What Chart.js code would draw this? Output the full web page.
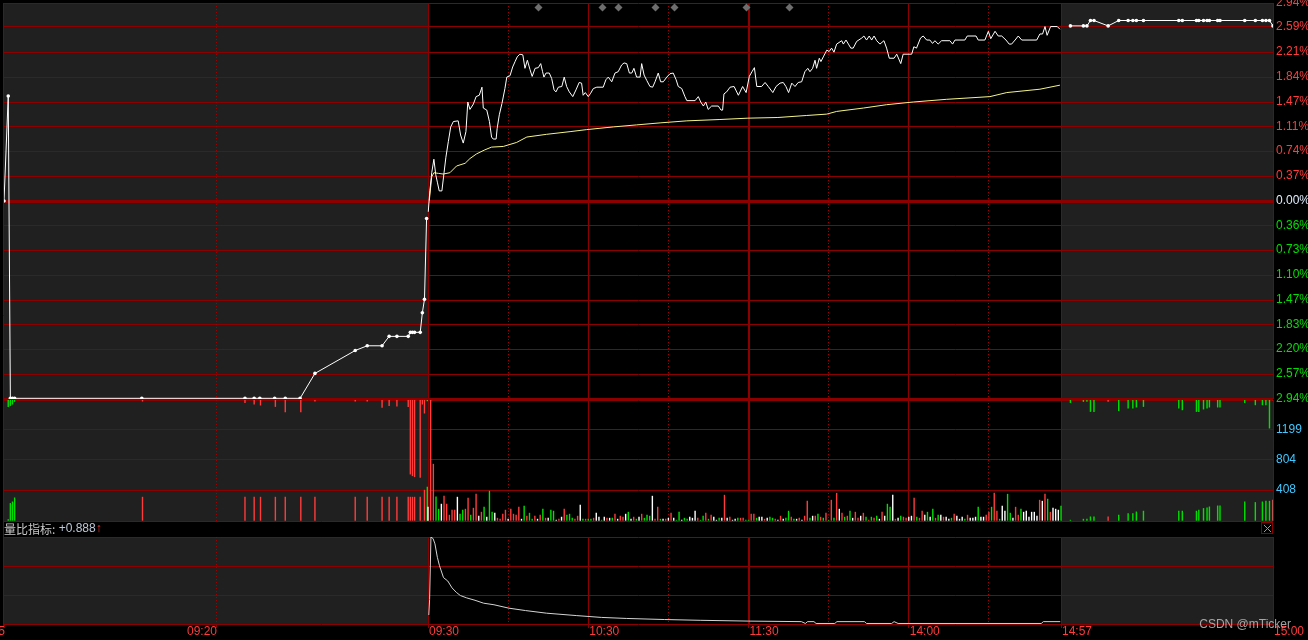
<!DOCTYPE html>
<html lang="zh-CN">
<head>
<meta charset="utf-8">
<title>分时走势</title>
<script src="https://cdn.jsdelivr.net/npm/chart.js@4.4.1/dist/chart.umd.min.js"></script>
<style>
  html, body { margin: 0; padding: 0; background: #000; }
  #board { position: relative; width: 1308px; height: 640px; overflow: hidden; background: #000; }
  #board canvas { position: absolute; left: 0; top: 0; }
</style>
</head>
<body>
<div id="board">
  <canvas id="ratio-chart" width="1308" height="640"></canvas>
  <canvas id="volume-chart" width="1308" height="640"></canvas>
  <canvas id="price-chart" width="1308" height="640"></canvas>
</div>
<script>
"use strict";

// ============================================================
// Data
// ============================================================

// call auction 09:15 - 09:25
const prePriceTimes = ["09:15:00", "09:15:06", "09:15:09", "09:15:12", "09:15:15", "09:18:15", "09:20:41", "09:20:54",
    "09:21:02", "09:21:23", "09:21:38", "09:21:59", "09:22:20", "09:23:17", "09:23:34", "09:23:55", "09:24:05",
    "09:24:16", "09:24:32", "09:24:35", "09:24:38", "09:24:41", "09:24:49", "09:24:52", "09:24:55", "09:24:58"];
const prePricePct = [0.00, 1.56, -2.93, -2.93, -2.93, -2.93, -2.93, -2.93, -2.93, -2.93, -2.93, -2.93, -2.56, -2.22,
    -2.15, -2.15, -2.01, -2.01, -2.01, -1.95, -1.95, -1.95, -1.95, -1.66, -1.46, -0.26];

const preVolTimes = ["09:15:06", "09:15:09", "09:15:12", "09:15:15", "09:18:16", "09:20:41", "09:20:54", "09:21:03",
    "09:21:24", "09:21:38", "09:22:00", "09:22:20", "09:23:17", "09:23:34", "09:23:55", "09:24:05", "09:24:16",
    "09:24:32", "09:24:35", "09:24:38", "09:24:41", "09:24:49", "09:24:52", "09:24:55", "09:24:59"];
const preVolMatched = [22, 233, 254, 307, 316, 316, 316, 316, 316, 316, 316, 316, 316, 316, 316, 316, 316, 316, 316,
    316, 316, 316, 0, 408, 447];
const preVolUnmatched = [88, 75, 57, 22, 17, 36, 57, 70, 88, 158, 158, 17, 17, 17, 101, 75, 83, 88, 978, 1000, 1013,
    1023, 57, 175, 13];
const preVolDir = "ggggrrrrrrrrrrrrrrrrrrrrg".split("");

// continuous session, x = minutes since 09:30 (lunch folded away)
const mainMin = [0.1, 0.7, 1.4, 2.2, 2.9, 3.5, 4.2, 5.2, 6.0, 6.7, 7.6, 8.5, 9.5, 11.3, 12.2, 13.2, 14.2, 14.9, 15.7,
    17.0, 18.0, 19.2, 20.2, 20.7, 22.0, 23.0, 23.8, 24.4, 25.5, 25.9, 26.7, 27.7, 28.8, 29.5, 30.7, 31.7, 32.6, 33.4,
    34.4, 35.5, 36.3, 37.2, 38.2, 39.0, 40.1, 41.3, 42.2, 42.9, 43.4, 44.2, 45.4, 46.3, 47.2, 47.9, 48.8, 50.1, 51.0,
    51.9, 52.9, 54.2, 55.4, 56.6, 57.5, 58.1, 58.9, 60.0, 60.9, 61.9, 63.2, 65.6, 66.6, 67.5, 68.8, 70.0, 71.2, 72.5,
    73.4, 74.4, 75.4, 76.3, 77.1, 78.1, 79.4, 80.0, 80.9, 81.9, 83.1, 84.1, 85.0, 86.2, 87.1, 88.1, 89.4, 90.6, 91.8,
    92.9, 93.7, 95.0, 96.2, 96.9, 100.0, 101.2, 102.1, 103.1, 104.0, 104.9, 106.2, 108.7, 109.7, 110.3, 110.8, 111.8,
    113.1, 114.6, 116.2, 117.8, 119.1, 120.3, 121.3, 122.2, 123.1, 124.9, 126.2, 127.4, 129.1, 130.3, 131.8, 133.0,
    134.0, 135.0, 136.2, 137.4, 138.6, 139.9, 141.1, 142.2, 143.0, 144.0, 144.9, 145.5, 146.5, 147.1, 148.0, 149.3,
    150.2, 151.1, 152.0, 153.0, 154.9, 155.5, 156.5, 157.4, 158.3, 159.2, 160.5, 162.4, 163.2, 164.2, 165.2, 166.1,
    167.0, 168.0, 169.2, 170.7, 171.7, 172.7, 174.5, 175.5, 177.0, 177.9, 181.1, 181.9, 182.9, 184.4, 185.4, 186.7,
    187.9, 188.9, 189.8, 191.0, 192.3, 195.4, 196.4, 197.3, 201.0, 201.9, 205.2, 206.0, 208.5, 209.8, 210.7, 212.3,
    213.5, 214.8, 216.4, 217.6, 218.5, 219.8, 221.0, 222.3, 227.9, 229.1, 230.1, 231.0, 231.8, 233.1, 235.6, 236.6];
const mainPct = [-0.16, 0.16, 0.42, 0.62, 0.39, 0.28, 0.15, 0.15, 0.42, 0.65, 0.88, 1.10, 1.18, 1.19, 0.98, 0.86, 1.03,
    1.47, 1.36, 1.44, 1.55, 1.57, 1.69, 1.38, 1.35, 1.18, 0.95, 0.92, 0.92, 1.08, 1.28, 1.45, 1.67, 1.84, 1.86, 1.99,
    2.07, 2.14, 2.18, 2.17, 1.97, 2.09, 1.95, 1.85, 1.97, 1.98, 2.04, 1.92, 1.84, 1.90, 1.90, 1.82, 1.65, 1.62, 1.69,
    1.70, 1.84, 1.70, 1.62, 1.55, 1.65, 1.76, 1.75, 1.57, 1.61, 1.55, 1.60, 1.67, 1.69, 1.69, 1.80, 1.84, 1.77, 1.90,
    1.92, 2.02, 2.05, 2.04, 1.90, 1.90, 1.97, 1.84, 1.84, 2.04, 1.87, 1.79, 1.70, 1.69, 1.77, 1.90, 1.77, 1.77, 1.84,
    1.89, 1.90, 1.80, 1.70, 1.67, 1.55, 1.49, 1.49, 1.55, 1.47, 1.41, 1.47, 1.36, 1.41, 1.41, 1.35, 1.35, 1.59, 1.62,
    1.69, 1.70, 1.57, 1.70, 1.61, 1.85, 1.92, 1.98, 1.70, 1.70, 1.76, 1.70, 1.61, 1.70, 1.75, 1.76, 1.70, 1.61, 1.75,
    1.70, 1.76, 1.77, 1.92, 1.97, 1.92, 1.97, 2.09, 1.97, 2.12, 2.07, 2.14, 2.24, 2.22, 2.27, 2.21, 2.33, 2.38, 2.33,
    2.39, 2.33, 2.27, 2.27, 2.37, 2.42, 2.45, 2.39, 2.45, 2.39, 2.45, 2.38, 2.33, 2.38, 2.27, 2.12, 2.12, 2.18, 2.04,
    2.18, 2.18, 2.29, 2.27, 2.42, 2.45, 2.39, 2.39, 2.34, 2.38, 2.33, 2.38, 2.38, 2.33, 2.39, 2.39, 2.45, 2.45, 2.39,
    2.39, 2.52, 2.41, 2.52, 2.45, 2.45, 2.39, 2.33, 2.33, 2.39, 2.45, 2.39, 2.39, 2.48, 2.48, 2.59, 2.46, 2.59, 2.59,
    2.55];

const avgMin = [0.5, 1.4, 2.2, 3.9, 5.7, 8.2, 10.7, 13.9, 15.7, 18.2, 21.3, 23.8, 28.2, 33.2, 37.0, 44.4, 53.2, 59.4,
    69.4, 78.1, 86.9, 96.9, 109.3, 119.8, 131.0, 141.8, 149.3, 153.0, 163.0, 171.7, 181.7, 194.2, 210.4, 216.7, 229.1,
    236.6];
const avgPct = [0.01, 0.36, 0.42, 0.41, 0.40, 0.42, 0.52, 0.56, 0.63, 0.70, 0.76, 0.80, 0.81, 0.87, 0.95, 0.99, 1.03,
    1.06, 1.10, 1.13, 1.16, 1.19, 1.21, 1.23, 1.24, 1.27, 1.29, 1.33, 1.38, 1.43, 1.47, 1.51, 1.55, 1.61, 1.66, 1.72];

// one bar per minute, index = minutes since 09:30
const volume = [184, 1900, 750, 320, 158, 224, 329, 224, 79, 145, 145, 316, 92, 145, 158, 303, 79, 171, 355, 66,
    118, 184, 53, 395, 118, 105, 39, 26, 92, 145, 26, 158, 92, 79, 184, 26, 197, 66, 105, 26,
    66, 26, 79, 158, 39, 39, 145, 132, 13, 26, 53, 158, 79, 92, 39, 26, 66, 211, 26, 26,
    26, 26, 39, 105, 53, 13, 53, 39, 39, 39, 92, 26, 66, 53, 92, 118, 26, 53, 26, 53,
    92, 39, 79, 66, 329, 26, 184, 26, 26, 26, 39, 105, 39, 13, 118, 13, 39, 26, 53, 39,
    132, 39, 13, 66, 105, 26, 79, 53, 13, 39, 39, 342, 39, 53, 13, 26, 39, 39, 39, 13,
    13, 92, 92, 39, 53, 53, 26, 39, 53, 39, 26, 13, 66, 26, 39, 132, 53, 26, 26, 39,
    13, 66, 263, 39, 66, 66, 92, 53, 39, 105, 13, 276, 39, 368, 158, 105, 53, 66, 132, 39,
    118, 39, 66, 105, 53, 13, 53, 39, 66, 26, 118, 66, 224, 184, 342, 26, 39, 66, 53, 39,
    53, 66, 303, 53, 39, 132, 79, 118, 53, 158, 39, 79, 79, 53, 53, 26, 39, 92, 66, 26,
    53, 26, 79, 39, 39, 53, 184, 53, 53, 79, 118, 184, 368, 132, 26, 197, 132, 355, 105, 39,
    184, 79, 158, 118, 132, 53, 118, 118, 66, 276, 263, 355, 290, 118, 171, 158, 145, 197];
const volumeDir = ("wrrggwrrrr" + "rwggrrgrrw" + "rgwggwrrrr" + "wrrrrwgrgg" + "rwrgrwggwr" + "wrgggrrwgr" +
    "ggrwwgwrwg" + "rwrrwgwrgw" + "rgggwrrgwr" + "wrwggwggww" + "wrggrgrwwg" + "wrwrwwgrrg" +
    "grrgwwrwgg" + "rwrwggrgwr" + "wrrgwrgrgr" + "grgrwrgrgw" + "rrwrgrgrgw" + "rwggwrwgrr" +
    "wwrgrrwgwg" + "rgwrwwgrww" + "wgrwwwgwwr" + "rgrrgwwggw" + "rrgwwwwwwr" + "wrgrwwwg").split("");

// 量比 (volume ratio)
const ratioMin = [0.3, 0.6, 1.1, 1.9, 2.6, 3.5, 4.3, 5.8, 7.4, 9.0, 10.6, 12.1, 14.5, 17.6, 20.8, 24.7, 30.3, 36.5,
    44.4, 55.5, 64.9, 74.4, 88.5, 101.9, 120.1, 139.8, 141.3, 142.1, 144.5, 145.3, 152.3, 153.1, 163.4, 164.2, 173.6,
    174.5, 176.0, 229.6, 230.4, 236.7];
const ratioVal = [1.14, 1.72, 4.10, 4.04, 3.84, 3.33, 3.01, 2.56, 2.43, 2.17, 2.00, 1.88, 1.79, 1.70, 1.59, 1.53,
    1.40, 1.31, 1.21, 1.12, 1.05, 1.01, 0.97, 0.94, 0.91, 0.89, 0.82, 0.89, 0.89, 0.82, 0.82, 0.89, 0.89, 0.82, 0.82,
    0.89, 0.82, 0.82, 0.89, 0.89];
const ratioNow = "+0.888";

// closing call auction 14:57 - 15:00
const postTimes = ["14:57:08", "14:57:19", "14:57:22", "14:57:25", "14:57:28", "14:57:40", "14:57:49", "14:57:57",
    "14:58:01", "14:58:04", "14:58:10", "14:58:40", "14:58:43", "14:58:55", "14:58:57", "14:59:01", "14:59:04",
    "14:59:06", "14:59:13", "14:59:15", "14:59:36", "14:59:45", "14:59:51", "14:59:54", "14:59:57", "15:00:00"];
const postPct = [2.60, 2.60, 2.60, 2.68, 2.68, 2.60, 2.68, 2.68, 2.68, 2.68, 2.68, 2.68, 2.68, 2.68, 2.68, 2.68, 2.68,
    2.68, 2.68, 2.68, 2.68, 2.68, 2.68, 2.68, 2.68, 2.60];
const postVolMatched = [13, 26, 26, 57, 57, 57, 79, 101, 101, 122, 132, 132, 132, 132, 145, 167, 175, 188, 201, 201,
    254, 246, 254, 263, 263, 276];
const postVolUnmatched = [36, 22, 22, 154, 154, 22, 141, 109, 109, 96, 88, 109, 132, 154, 154, 122, 109, 96, 96, 96,
    36, 66, 66, 66, 372, 0];
const postVolDir = "gggggrgggggggggggggggggggr".split("");

// event markers along the top edge
const markerTimes = ["10:11", "10:35", "10:41", "10:55", "11:02", "11:29", "13:15"];

// axes
const pctTicks = [2.94, 2.59, 2.21, 1.84, 1.47, 1.11, 0.74, 0.37, 0, -0.36, -0.73, -1.10, -1.47, -1.83, -2.20, -2.57, -2.94];
const volTicks = [0, 408, 804, 1199, 1594];
const ratioTicks = [0.8, 1.9, 3.0, 4.1];
const timeLabels = ["09:15", "09:20", "09:30", "10:30", "11:30", "14:00", "14:57", "15:00"];
const solidLines = ["09:30", "10:30", "11:30", "14:00", "14:57", "15:00"];
const dottedLines = ["09:20", "10:00", "11:00", "13:30", "14:30"];

// ============================================================
// Styling / time axis
// ============================================================

const GRID = "#8c0000";
const DOT = "#a00000";
const SHADE = "#202020";
const RED = "#ff3c3c";
const GREEN = "#00e000";
const WHITE = "#ffffff";
const AVG = "#f4f48a";
const DIR_COLOR = { r: RED, g: GREEN, w: WHITE };

// x unit = one minute of the continuous session; auction strips are stretched
const X_MIN = -158.75;   // 09:15
const X_MAX = 316.37;    // 15:00

function secs(t) {
    const p = t.split(":").map(Number);
    return p[0] * 3600 + p[1] * 60 + (p[2] || 0);
}

function timeToX(t) {
    const s = secs(t);
    if (s <= secs("09:25")) return X_MIN + (s - secs("09:15")) * (-X_MIN / 600);
    if (s <= secs("11:30")) return (s - secs("09:30")) / 60;
    if (s < secs("14:57")) return 120 + (s - secs("13:00")) / 60;
    return 237 + (s - secs("14:57")) * ((X_MAX - 237) / 180);
}

const pts = (xs, ys) => xs.map((x, i) => ({ x, y: ys[i] }));
const atTimes = (ts, ys) => ts.map((t, i) => ({ x: timeToX(t), y: ys[i] }));
const crisp = (px, w) => (w % 2 ? Math.round(px - 0.5) + 0.5 : Math.round(px));

Chart.defaults.font.family = '"Liberation Sans", Arial, sans-serif';
Chart.defaults.font.size = 12;

function timeAxis() {
    return { type: "linear", min: X_MIN, max: X_MAX, offset: false, grid: { offset: false }, display: false };
}

function fitRight(scale) {
    scale.width = 35;
    scale.paddingTop = 0;
    scale.paddingBottom = 0;
}

function baseOptions(top, bottom) {
    return {
        responsive: false,
        animation: false,
        events: [],
        layout: { autoPadding: false, padding: { left: 4, right: 0, top: top, bottom: 640 - bottom } },
        plugins: { legend: { display: false }, tooltip: { enabled: false } }
    };
}

// ============================================================
// Plugins
// ============================================================

const sessionShade = {
    id: "sessionShade",
    beforeDraw(chart) {
        const { ctx, chartArea: a, scales: { x } } = chart;
        const open = x.getPixelForValue(timeToX("09:30"));
        const close = x.getPixelForValue(timeToX("14:57"));
        ctx.save();
        ctx.fillStyle = SHADE;
        ctx.fillRect(a.left, a.top, open - a.left, a.bottom - a.top);
        ctx.fillRect(close, a.top, a.right - close, a.bottom - a.top);
        ctx.restore();
    }
};

const sessionLines = {
    id: "sessionLines",
    beforeDatasetsDraw(chart) {
        const { ctx, chartArea: a, scales: { x } } = chart;
        ctx.save();
        ctx.strokeStyle = GRID;
        solidLines.forEach(t => {
            const w = t === "11:30" ? 2 : 1;
            const px = crisp(x.getPixelForValue(timeToX(t)), w);
            ctx.lineWidth = w;
            ctx.beginPath();
            ctx.moveTo(px, a.top);
            ctx.lineTo(px, a.bottom);
            ctx.stroke();
        });
        ctx.strokeStyle = DOT;
        ctx.lineWidth = 1;
        ctx.setLineDash([1, 2]);
        dottedLines.forEach(t => {
            const px = crisp(x.getPixelForValue(timeToX(t)), 1);
            ctx.beginPath();
            ctx.moveTo(px, a.top);
            ctx.lineTo(px, a.bottom);
            ctx.stroke();
        });
        ctx.restore();
    }
};

const eventMarks = {
    id: "eventMarks",
    afterDatasetsDraw(chart) {
        const { ctx, chartArea: a, scales: { x } } = chart;
        ctx.save();
        ctx.fillStyle = "#6e6e6e";
        markerTimes.forEach(t => {
            const cx = Math.round(x.getPixelForValue(timeToX(t))) + 0.5;
            const cy = a.top + 4.5;
            ctx.beginPath();
            ctx.moveTo(cx, cy - 4);
            ctx.lineTo(cx + 4, cy);
            ctx.lineTo(cx, cy + 4);
            ctx.lineTo(cx - 4, cy);
            ctx.closePath();
            ctx.fill();
        });
        ctx.restore();
    }
};

const ratioOverlay = {
    id: "ratioOverlay",
    afterDraw(chart) {
        const { ctx, chartArea: a, scales: { x } } = chart;
        ctx.save();

        // left frame through all panes
        ctx.strokeStyle = GRID;
        ctx.lineWidth = 1;
        ctx.beginPath();
        ctx.moveTo(3.5, 3);
        ctx.lineTo(3.5, a.bottom + 4);
        ctx.stroke();

        // indicator title row
        const ty = a.top - 8;
        let tx = 4;
        ctx.textBaseline = "middle";
        ctx.textAlign = "left";
        ctx.font = '12px "Noto Sans CJK SC", sans-serif';
        ctx.fillStyle = "#c8c8c8";
        ctx.fillText("量比指标:", tx, ty);
        tx += ctx.measureText("量比指标:").width;
        ctx.font = '12px "Liberation Sans", Arial, sans-serif';
        ctx.fillStyle = "#bcc8d8";
        ctx.fillText(" " + ratioNow, tx, ty);
        tx += ctx.measureText(" " + ratioNow).width;
        ctx.fillStyle = RED;
        ctx.fillText("↑", tx, ty);

        // close box
        ctx.strokeStyle = GRID;
        ctx.strokeRect(a.right - 11.5, a.top - 14.5, 11, 11);
        ctx.strokeStyle = "#9a9a9a";
        ctx.beginPath();
        ctx.moveTo(a.right - 9, a.top - 12);
        ctx.lineTo(a.right - 2, a.top - 5);
        ctx.moveTo(a.right - 2, a.top - 12);
        ctx.lineTo(a.right - 9, a.top - 5);
        ctx.stroke();

        // time axis
        ctx.font = '12px "Liberation Sans", Arial, sans-serif';
        timeLabels.forEach(t => {
            const xv = timeToX(t);
            const px = x.getPixelForValue(xv);
            ctx.strokeStyle = GRID;
            ctx.beginPath();
            ctx.moveTo(crisp(px, 1), a.bottom);
            ctx.lineTo(crisp(px, 1), a.bottom + 4);
            ctx.stroke();
            ctx.fillStyle = RED;
            ctx.textAlign = xv < 0 ? "right" : "left";
            ctx.fillText(t, px + 1, a.bottom + 8);
        });

        // watermark
        ctx.textAlign = "right";
        ctx.fillStyle = "rgba(200, 200, 200, 0.8)";
        ctx.fillText("CSDN @mTicker", 1291, a.bottom + 1);
        ctx.restore();
    }
};

// ============================================================
// Charts
// ============================================================

const PRICE_TOP = 3, PRICE_BOTTOM = 399;
const VOL_TOP = 400, VOL_BOTTOM = 521;
const RATIO_TOP = 537, RATIO_BOTTOM = 624;
const VOL_MAX = volTicks[volTicks.length - 1];

new Chart(document.getElementById("price-chart"), {
    type: "line",
    data: {
        datasets: [
            { data: pts(mainMin, mainPct), borderColor: WHITE, borderWidth: 1, pointRadius: 0 },
            {
                data: atTimes(prePriceTimes, prePricePct), borderColor: WHITE, borderWidth: 1,
                pointRadius: 1.8, pointBorderWidth: 0, pointBackgroundColor: WHITE
            },
            {
                data: atTimes(postTimes, postPct), borderColor: WHITE, borderWidth: 1,
                pointRadius: 1.8, pointBorderWidth: 0, pointBackgroundColor: WHITE
            },
            { data: pts(avgMin, avgPct), borderColor: AVG, borderWidth: 1, pointRadius: 0 }
        ]
    },
    options: Object.assign(baseOptions(PRICE_TOP, PRICE_BOTTOM), {
        scales: {
            x: timeAxis(),
            y: {
                position: "right",
                min: -2.94,
                max: 2.94,
                afterBuildTicks: s => { s.ticks = pctTicks.map(value => ({ value })); },
                afterFit: fitRight,
                border: { display: false },
                grid: {
                    color: GRID,
                    drawTicks: false,
                    lineWidth: c => (c.tick && c.tick.value === 0 ? 3 : (c.tick && c.tick.value === -2.94 ? 2 : 1))
                },
                ticks: {
                    autoSkip: false,
                    padding: 3,
                    color: c => (c.tick.value > 0 ? RED : (c.tick.value < 0 ? GREEN : "#dfeeff")),
                    callback: v => Math.abs(v).toFixed(2) + "%"
                }
            }
        }
    }),
    plugins: [sessionShade, sessionLines, eventMarks]
});

const barStyle = { type: "bar", grouped: false, barThickness: 1, borderWidth: 0, inflateAmount: 0.2, clip: 0 };

new Chart(document.getElementById("volume-chart"), {
    type: "bar",
    data: {
        datasets: [
            Object.assign({
                data: volume.map((v, k) => ({ x: k, y: v })),
                backgroundColor: volumeDir.map(d => DIR_COLOR[d])
            }, barStyle),
            Object.assign({
                data: atTimes(preVolTimes, preVolMatched),
                backgroundColor: preVolDir.map(d => DIR_COLOR[d])
            }, barStyle),
            Object.assign({
                data: atTimes(preVolTimes, preVolUnmatched), yAxisID: "yh",
                backgroundColor: preVolDir.map(d => DIR_COLOR[d])
            }, barStyle),
            Object.assign({
                data: atTimes(postTimes, postVolMatched),
                backgroundColor: postVolDir.map((d, i) => (i === postVolDir.length - 1 ? "#ff6e6e" : DIR_COLOR[d]))
            }, barStyle),
            Object.assign({
                data: atTimes(postTimes, postVolUnmatched), yAxisID: "yh",
                backgroundColor: postVolDir.map(d => DIR_COLOR[d])
            }, barStyle)
        ]
    },
    options: Object.assign(baseOptions(VOL_TOP, VOL_BOTTOM), {
        scales: {
            x: timeAxis(),
            y: {
                position: "right",
                min: 0,
                max: VOL_MAX,
                afterBuildTicks: s => { s.ticks = volTicks.map(value => ({ value })); },
                afterFit: fitRight,
                border: { display: false },
                grid: { color: GRID, drawTicks: false },
                ticks: {
                    autoSkip: false,
                    padding: 3,
                    color: "#40c8ff",
                    callback: v => (v === 0 || v === VOL_MAX ? "" : String(v))
                }
            },
            yh: { display: false, reverse: true, min: 0, max: VOL_MAX }
        }
    }),
    plugins: [sessionShade, sessionLines]
});

new Chart(document.getElementById("ratio-chart"), {
    type: "line",
    data: {
        datasets: [
            { data: pts(ratioMin, ratioVal), borderColor: "#d4d4d4", borderWidth: 1, pointRadius: 0 }
        ]
    },
    options: Object.assign(baseOptions(RATIO_TOP, RATIO_BOTTOM), {
        scales: {
            x: timeAxis(),
            y: {
                position: "right",
                min: ratioTicks[0],
                max: ratioTicks[ratioTicks.length - 1],
                afterBuildTicks: s => { s.ticks = ratioTicks.map(value => ({ value })); },
                afterFit: fitRight,
                border: { display: false },
                grid: { color: GRID, drawTicks: false },
                ticks: { display: false }
            }
        }
    }),
    plugins: [sessionShade, sessionLines, ratioOverlay]
});
</script>
</body>
</html>
